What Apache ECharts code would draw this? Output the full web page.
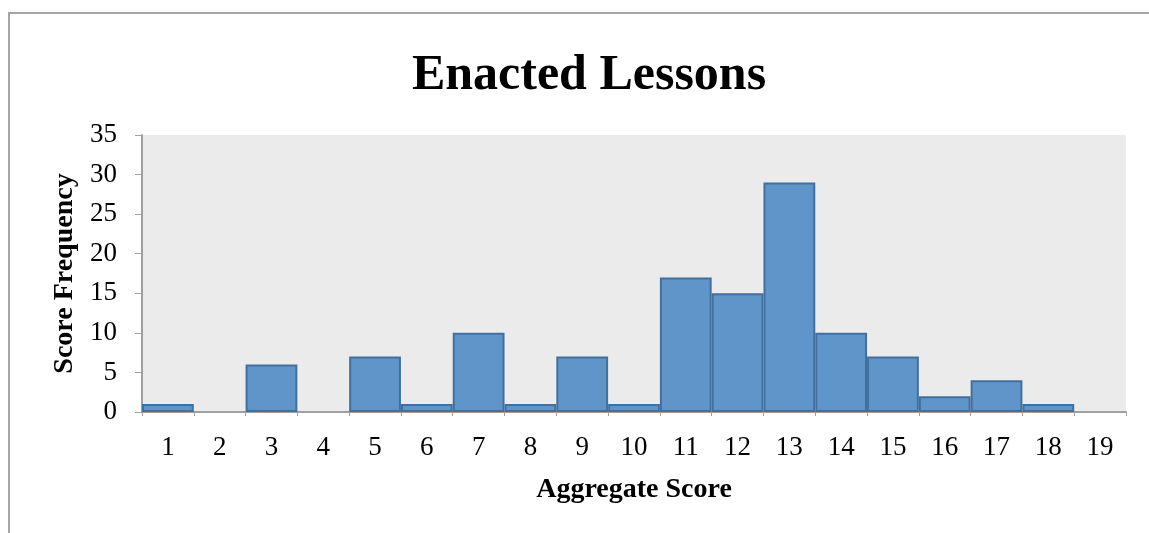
<!DOCTYPE html>
<html>
<head>
<meta charset="utf-8">
<script src="https://cdn.jsdelivr.net/npm/echarts@6/dist/echarts.min.js"></script>
<style>
html, body { margin: 0; padding: 0; background: #fff; }
#chart { width: 1149px; height: 533px; }
</style>
</head>
<body>
<div id="chart"></div>
<script>
// Aggregate score categories and how often each occurs
var scores = ['1','2','3','4','5','6','7','8','9','10','11','12','13','14','15','16','17','18','19'];
var frequency = [1, 0, 6, 0, 7, 1, 10, 1, 7, 1, 17, 15, 29, 10, 7, 2, 4, 1, 0];

var serif = 'Liberation Serif';
var myChart = echarts.init(document.getElementById('chart'));

// empty bins get no outline so nothing shows on the axis
var barData = frequency.map(function (v) {
    return v === 0 ? { value: v, itemStyle: { borderWidth: 0 } } : v;
});

var option = {
    backgroundColor: '#fff',
    title: {
        text: 'Enacted Lessons',
        left: 584,
        textAlign: 'center',
        top: 46,
        textStyle: {
            fontFamily: serif,
            fontSize: 50,
            fontWeight: 'bold',
            color: '#000'
        }
    },
    graphic: [
        {
            type: 'polyline',
            shape: { points: [[9, 533], [9, 13], [1149, 13]] },
            style: { stroke: '#a6a6a6', lineWidth: 2, fill: null },
            silent: true
        }
    ],
    grid: {
        left: 142,
        right: 23,
        top: 135,
        bottom: 121,
        show: true,
        backgroundColor: '#ebebeb',
        borderWidth: 0
    },
    xAxis: {
        type: 'category',
        data: scores,
        boundaryGap: true,
        name: 'Aggregate Score',
        nameLocation: 'middle',
        nameGap: 64,
        nameTextStyle: { fontFamily: serif, fontSize: 28, fontWeight: 'bold', color: '#000' },
        axisLine: { lineStyle: { color: '#a0a0a0', width: 2 } },
        axisTick: { show: true, length: 4, lineStyle: { color: '#a0a0a0' } },
        axisLabel: { fontFamily: serif, fontSize: 27, color: '#000', margin: 22 }
    },
    yAxis: {
        type: 'value',
        min: 0,
        max: 35,
        interval: 5,
        name: 'Score Frequency',
        nameLocation: 'middle',
        nameGap: 63,
        nameRotate: 90,
        nameTextStyle: { fontFamily: serif, fontSize: 28, fontWeight: 'bold', color: '#000' },
        axisLine: { show: true, lineStyle: { color: '#a0a0a0', width: 2 } },
        axisTick: { show: true, length: 7, lineStyle: { color: '#a0a0a0' } },
        splitLine: { show: false },
        axisLabel: { fontFamily: serif, fontSize: 27, color: '#000', margin: 25 }
    },
    series: [
        {
            name: 'Score Frequency',
            type: 'bar',
            data: barData,
            barCategoryGap: 0,
            itemStyle: {
                color: '#5f95c9',
                borderColor: '#41709f',
                borderWidth: 2
            }
        }
    ]
};

myChart.setOption(option);
</script>
</body>
</html>
